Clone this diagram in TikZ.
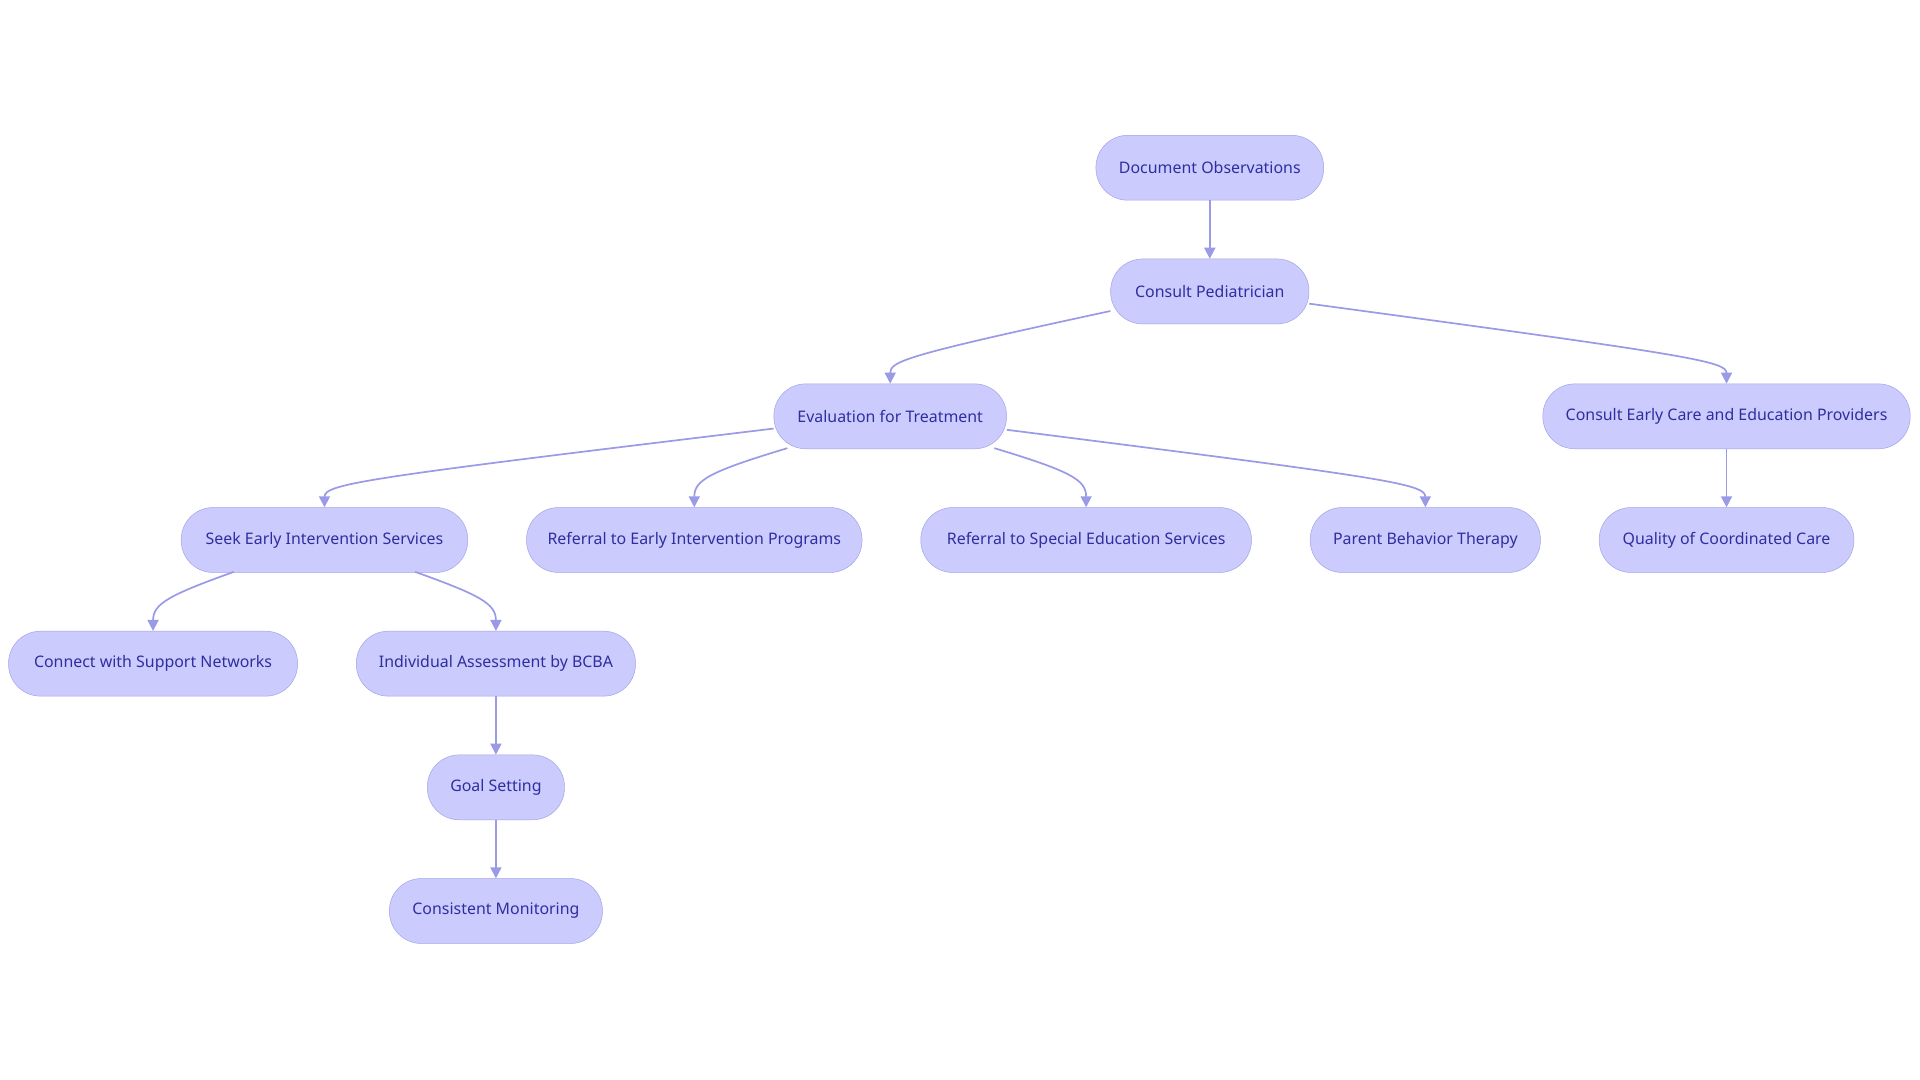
\documentclass[tikz,border=0pt]{standalone}
\usepackage{fontspec}
\setmainfont{Noto Sans}
\usetikzlibrary{arrows.meta,calc}
\definecolor{nfill}{HTML}{CBCBFD}
\definecolor{ndraw}{HTML}{A2A2E8}
\definecolor{ntext}{HTML}{2E2EA0}
\definecolor{ecol}{HTML}{9A9AE6}
\begin{document}
\begin{tikzpicture}[x=1pt,y=-1pt,
  box/.style={draw=ndraw,fill=nfill,rounded corners=26pt,minimum height=53pt,text=ntext,font=\fontsize{13}{15}\selectfont,inner xsep=4pt},
  edge/.style={draw=ecol,line width=1.4pt,-{Triangle[length=9pt,width=9pt]}}]
\useasboundingbox (0,0) rectangle (1568,882);
\node[box,minimum width=186pt] (doc) at (988,137) {Document Observations};
\node[box,minimum width=162pt] (cp) at (988,238) {Consult Pediatrician};
\node[box,minimum width=190pt] (ev) at (727,340) {Evaluation for Treatment};
\node[box,minimum width=300pt] (ce) at (1410,340) {Consult Early Care and Education Providers};
\node[box,minimum width=234pt] (seek) at (265,441) {Seek Early Intervention Services};
\node[box,minimum width=274pt] (rei) at (567,441) {Referral to Early Intervention Programs};
\node[box,minimum width=270pt] (rse) at (887,441) {Referral to Special Education Services};
\node[box,minimum width=188pt] (pbt) at (1164,441) {Parent Behavior Therapy};
\node[box,minimum width=208pt] (qc) at (1410,441) {Quality of Coordinated Care};
\node[box,minimum width=236pt] (con) at (125,542) {Connect with Support Networks};
\node[box,minimum width=228pt] (ind) at (405,542) {Individual Assessment by BCBA};
\node[box,minimum width=112pt] (goal) at (405,643) {Goal Setting};
\node[box,minimum width=174pt] (mon) at (405,744) {Consistent Monitoring};
\draw[edge] (doc) -- (cp);
\draw[edge] (ce) -- (qc);
\draw[edge] (ind) -- (goal);
\draw[edge] (goal) -- (mon);
\draw[edge] ($(cp.west)+(0,16)$) .. controls (740,290) and (727,295) .. (ev.north);
\draw[edge] ($(cp.east)+(0,10)$) .. controls (1380,290) and (1410,295) .. (ce.north);
\draw[edge] ($(ev.west)+(0,10)$) .. controls (300,390) and (265,395) .. (seek.north);
\draw[edge] (643,366) .. controls (580,385) and (567,392) .. (rei.north);
\draw[edge] (812,366) .. controls (875,385) and (887,392) .. (rse.north);
\draw[edge] ($(ev.east)+(0,11)$) .. controls (1130,390) and (1164,395) .. (pbt.north);
\draw[edge] (191,467) .. controls (138,486) and (125,493) .. (con.north);
\draw[edge] (339,467) .. controls (392,486) and (405,493) .. (ind.north);
\end{tikzpicture}
\end{document}
